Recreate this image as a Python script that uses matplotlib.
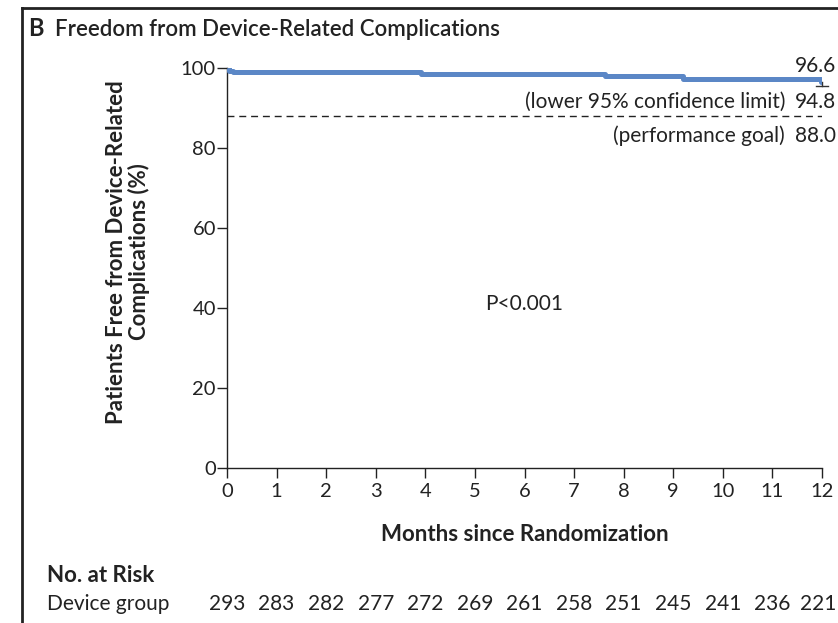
import matplotlib
matplotlib.use("Agg")
import matplotlib.pyplot as plt
from matplotlib.lines import Line2D

plt.rcParams['font.family'] = ['Lato', 'DejaVu Sans']

# Data
step_months = [0, 0.04, 0.12, 3.92, 7.62, 9.2, 11.97, 12.0]
survival = [100, 99.3, 98.9, 98.5, 98.1, 97.3, 96.6, 96.6]
final_estimate = 96.6
lower_ci = 94.8
performance_goal = 88.0
month_ticks = list(range(13))
y_ticks = [0, 20, 40, 60, 80, 100]
at_risk = [293, 283, 282, 277, 272, 269, 261, 258, 251, 245, 241, 236, 221]

W, H = 838, 623
fig = plt.figure(figsize=(W / 100, H / 100), dpi=100)

def fx(px):
    return px / W

def fy(py):
    return 1 - py / H

TXT = '#222222'
ax = fig.add_axes([fx(227), fy(468), fx(822) - fx(227), fy(68) - fy(468)])
ax.set_xlim(0, 12)
ax.set_ylim(0, 100)
ax.step(step_months, survival, where='post', color='#5b87c6', lw=3.6, solid_capstyle='butt', zorder=3)
ax.axhline(performance_goal, color=TXT, lw=1.0, ls=(0, (5, 3.5)))
# CI whisker at end
ax.plot([12, 12], [final_estimate, lower_ci + 0.6], color='#333333', lw=1.0, clip_on=False)
ax.plot([11.88, 12.12], [lower_ci + 0.6, lower_ci + 0.6], color='#333333', lw=1.0, clip_on=False)

for s in ['top', 'right']:
    ax.spines[s].set_visible(False)
for s in ['left', 'bottom']:
    ax.spines[s].set_linewidth(1.0)
    ax.spines[s].set_color(TXT)
ax.set_xticks(month_ticks)
ax.set_yticks(y_ticks)
ax.set_xticklabels([str(m) for m in month_ticks])
ax.set_yticklabels([str(v) for v in y_ticks])
ax.tick_params(axis='both', direction='out', length=7, width=1.0, colors=TXT,
               labelsize=14.5, labelcolor=TXT)
ax.tick_params(axis='y', pad=1)
ax.tick_params(axis='x', pad=4)

ax.set_xlabel('Months since Randomization', fontsize=16, fontweight='bold', labelpad=17, color=TXT)
fig.text(fx(128), fy(252), 'Patients Free from Device-Related\nComplications (%)', rotation=90,
         ha='center', va='center', fontsize=16, fontweight='bold', color=TXT, linespacing=1.05)

ax.text(6, 41, 'P<0.001', ha='center', va='center', fontsize=15, color=TXT)

fig.text(fx(836), fy(66), f'{final_estimate:.1f}', ha='right', va='center', fontsize=15, color=TXT)
fig.text(fx(785), fy(102), '(lower 95% confidence limit)', ha='right', va='center', fontsize=15, color=TXT)
fig.text(fx(836), fy(102), f'{lower_ci:.1f}', ha='right', va='center', fontsize=15, color=TXT)
fig.text(fx(785), fy(136), '(performance goal)', ha='right', va='center', fontsize=15, color=TXT)
fig.text(fx(836), fy(136), f'{performance_goal:.1f}', ha='right', va='center', fontsize=15, color=TXT)

# Title
fig.text(fx(28), fy(29), 'B', ha='left', va='center', fontsize=17, fontweight='bold', color=TXT)
fig.text(fx(55), fy(29), 'Freedom from Device-Related Complications', ha='left', va='center',
         fontsize=16, fontweight='semibold', color=TXT)

# At-risk table
fig.text(fx(47), fy(576), 'No. at Risk', ha='left', va='center', fontsize=16, fontweight='bold', color=TXT)
fig.text(fx(47), fy(604), 'Device group', ha='left', va='center', fontsize=15, color=TXT)
last = len(month_ticks) - 1
for i, (m, n) in enumerate(zip(month_ticks, at_risk)):
    xd = ax.transData.transform((m, 0))[0]
    xf = fig.transFigure.inverted().transform((xd, 0))[0]
    if i == last:
        fig.text(fx(836), fy(604), str(n), ha='right', va='center', fontsize=15, color=TXT)
    else:
        fig.text(xf, fy(604), str(n), ha='center', va='center', fontsize=15, color=TXT)

# Panel border (left and top)
fig.add_artist(Line2D([fx(22), fx(22)], [0, fy(8)], transform=fig.transFigure, color=TXT, lw=2))
fig.add_artist(Line2D([fx(22), 1], [fy(8), fy(8)], transform=fig.transFigure, color=TXT, lw=2))

fig.savefig('out.png', dpi=100)
